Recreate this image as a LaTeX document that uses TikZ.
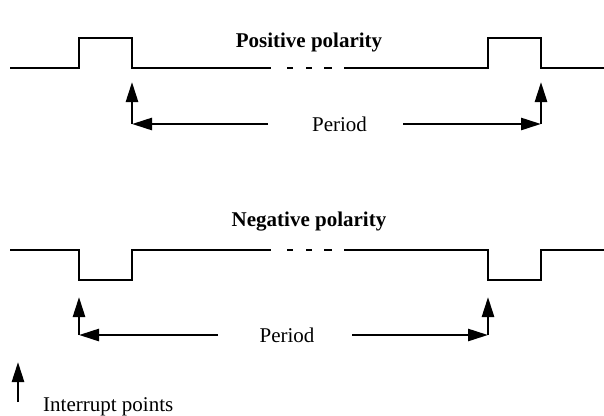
\documentclass[tikz,border=0pt]{standalone}
\usepackage{fontspec}
\setmainfont{Liberation Serif}
\usetikzlibrary{arrows.meta}
\begin{document}
\begin{tikzpicture}[x=1pt,y=-1pt,
  wave/.style={line width=2.6pt},
  dots/.style={line width=2.6pt},
  ptr/.style={line width=2.6pt,-{Triangle[length=20pt,width=12pt]}},
  lbl/.style={font=\fontsize{21}{25}\selectfont,anchor=base,inner sep=0pt},
  ttl/.style={font=\fontsize{21}{25}\selectfont\bfseries,anchor=base,inner sep=0pt}]
\useasboundingbox (0,0) rectangle (604,415);

% ---- positive polarity waveform ----
\node[ttl] (tpos) at (309,47) {Positive polarity};
\coordinate (pa) at (10,68);
\coordinate (pb) at (271,68);
\coordinate (pc) at (344,68);
\coordinate (pd) at (604,68);
\draw[wave] (pa) -- (79,68) -- (79,38) -- (132,38) -- (132,68) -- (pb);
\draw[dots] (287,68) -- (293,68) (306,68) -- (312,68) (324,68) -- (332,68);
\draw[wave] (pc) -- (488,68) -- (488,38) -- (541,38) -- (541,68) -- (pd);

% interrupt points and period, positive
\node[lbl] (perpos) at (339.5,131) {Period};
\coordinate (pl0) at (132,124);
\coordinate (pl1) at (132,82);
\coordinate (pr0) at (541,124);
\coordinate (pr1) at (541,82);
\coordinate (plh) at (268,124);
\coordinate (prh) at (403,124);
\draw[ptr] (pl0) -- (pl1);
\draw[ptr] (pr0) -- (pr1);
\draw[ptr] (plh) -- (pl0);
\draw[ptr] (prh) -- (pr0);

% ---- negative polarity waveform ----
\node[ttl] (tneg) at (309,226) {Negative polarity};
\coordinate (na) at (10,250);
\coordinate (nb) at (271,250);
\coordinate (nc) at (344,250);
\coordinate (nd) at (604,250);
\draw[wave] (na) -- (79,250) -- (79,280) -- (132,280) -- (132,250) -- (nb);
\draw[dots] (287,250) -- (293,250) (306,250) -- (312,250) (324,250) -- (332,250);
\draw[wave] (nc) -- (488,250) -- (488,280) -- (541,280) -- (541,250) -- (nd);

% interrupt points and period, negative
\node[lbl] (perneg) at (287,342) {Period};
\coordinate (nl0) at (79,335);
\coordinate (nl1) at (79,297);
\coordinate (nr0) at (488,335);
\coordinate (nr1) at (488,297);
\coordinate (nlh) at (218,335);
\coordinate (nrh) at (352,335);
\draw[ptr] (nl0) -- (nl1);
\draw[ptr] (nr0) -- (nr1);
\draw[ptr] (nlh) -- (nl0);
\draw[ptr] (nrh) -- (nr0);

% ---- legend ----
\coordinate (k0) at (18,402);
\coordinate (k1) at (18,362);
\draw[ptr] (k0) -- (k1);
\node[lbl,anchor=base west] (klbl) at (43,411) {Interrupt points};
\end{tikzpicture}
\end{document}
